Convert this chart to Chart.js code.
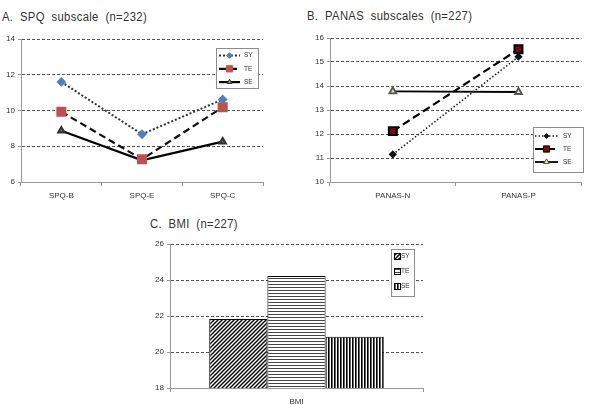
<!DOCTYPE html>
<html>
<head>
<meta charset="utf-8">
<script src="https://cdn.jsdelivr.net/npm/chart.js@4.4.1/dist/chart.umd.min.js"></script>
<style>
  body { margin: 0; background: #fff; width: 589px; height: 405px; position: relative; overflow: hidden; }
  canvas { position: absolute; }
  .title { position: absolute; font-family: "Liberation Sans", sans-serif; transform: scaleX(0.9); transform-origin: left center;
           font-size: 12.5px; line-height: 15px; color: #333; letter-spacing: 0.4px; word-spacing: 3.5px; white-space: nowrap; }
</style>
</head>
<body>
<div class="title" style="left:2px;top:10px">A. SPQ subscale (n=232)</div>
<div class="title" style="left:307px;top:9px">B. PANAS subscales (n=227)</div>
<div class="title" style="left:150px;top:217px">C. BMI (n=227)</div>
<canvas id="chartA" width="290" height="205" style="left:0;top:0"></canvas>
<canvas id="chartB" width="299" height="205" style="left:290px;top:0"></canvas>
<canvas id="chartC" width="300" height="205" style="left:130px;top:200px"></canvas>
<script>
// data
const seriesNames = ['SY', 'TE', 'SE'];

const spqLabels = ['SPQ-B', 'SPQ-E', 'SPQ-C'];
const spqSY = [11.6, 8.67, 10.62];
const spqTE = [9.93, 7.27, 10.18];
const spqSE = [8.87, 7.21, 8.26];

const panasLabels = ['PANAS-N', 'PANAS-P'];
const panasSY = [11.15, 15.22];
const panasTE = [12.12, 15.53];
const panasSE = [13.78, 13.75];

const bmiLabels = ['BMI'];
const bmiSY = [21.83];
const bmiTE = [24.22];
const bmiSE = [20.85];

const tickFont = { family: '"Liberation Sans", sans-serif', size: 8 };
const tickColor = '#333';

// marker drawing for the boxed legends
function drawMarker(ctx, style, r, x, y) {
    ctx.beginPath();
    if (style === 'rect') {
        const s = Math.SQRT1_2 * r;
        ctx.rect(x - s, y - s, 2 * s, 2 * s);
    } else if (style === 'rectRot') {
        ctx.moveTo(x, y - r); ctx.lineTo(x + r, y); ctx.lineTo(x, y + r); ctx.lineTo(x - r, y);
        ctx.closePath();
    } else if (style === 'triangle') {
        ctx.moveTo(x, y - r); ctx.lineTo(x + r * 0.866, y + r * 0.5); ctx.lineTo(x - r * 0.866, y + r * 0.5);
        ctx.closePath();
    }
    ctx.fill();
    ctx.stroke();
}

const boxLegend = {
    id: 'boxLegend',
    afterDraw(chart, args, opts) {
        if (!opts || !opts.w) return;
        const ctx = chart.ctx;
        const area = chart.chartArea;
        const x = Math.round(area.left + opts.x), y = Math.round(area.top + opts.y);
        ctx.save();
        ctx.fillStyle = '#fff';
        ctx.fillRect(x, y, opts.w, opts.h);
        ctx.strokeStyle = '#8c8c8c';
        ctx.lineWidth = 1;
        ctx.setLineDash([]);
        ctx.strokeRect(x + 0.5, y + 0.5, opts.w, opts.h);
        ctx.font = '6.5px "Liberation Sans", sans-serif';
        ctx.textBaseline = 'middle';
        chart.data.datasets.forEach((ds, i) => {
            const cy = y + opts.rowTop + i * opts.rowGap;
            if (opts.kind === 'line') {
                ctx.save();
                ctx.strokeStyle = ds.borderColor;
                ctx.lineWidth = ds.borderWidth;
                ctx.setLineDash(ds.borderDash || []);
                ctx.beginPath();
                ctx.moveTo(x + opts.lineX0, cy);
                ctx.lineTo(x + opts.lineX1, cy);
                ctx.stroke();
                ctx.setLineDash([]);
                ctx.fillStyle = ds.pointBackgroundColor;
                ctx.strokeStyle = ds.pointBorderColor;
                ctx.lineWidth = 1;
                drawMarker(ctx, ds.pointStyle, ds.pointRadius * 0.8, x + (opts.lineX0 + opts.lineX1) / 2, cy);
                ctx.restore();
            } else {
                ctx.fillStyle = ds.backgroundColor;
                ctx.fillRect(x + opts.lineX0, cy - 3, 6, 6);
                ctx.strokeStyle = '#000';
                ctx.strokeRect(x + opts.lineX0 + 0.5, cy - 2.5, 6, 6);
            }
            ctx.fillStyle = '#333';
            ctx.fillText(ds.label, x + opts.textX, cy);
        });
        ctx.restore();
    }
};

function yScale(min, max, step, width) {
    return {
        min: min, max: max,
        ticks: { stepSize: step, font: tickFont, color: tickColor, padding: 3 },
        grid: {
            color: c => (c.tick && c.tick.value === min) ? 'rgba(0,0,0,0)' : '#555',
            tickLength: 3,
            tickColor: '#999'
        },
        border: { dash: [3, 2], color: '#999' },
        afterFit(s) { s.width = width; }
    };
}

function xScale(height) {
    return {
        offset: true,
        ticks: { font: tickFont, color: tickColor, padding: 5 },
        grid: { offset: true, drawOnChartArea: false, tickLength: 4, tickColor: '#999' },
        border: { color: '#999' },
        afterFit(s) { s.height = height; }
    };
}

function baseOptions(layoutPad, yOpts, xOpts, legendOpts) {
    return {
        responsive: false,
        animation: false,
        layout: { padding: layoutPad },
        plugins: { legend: { display: false }, tooltip: { enabled: false }, boxLegend: legendOpts },
        scales: { x: xOpts, y: yOpts }
    };
}

// A. SPQ
new Chart(document.getElementById('chartA'), {
    type: 'line',
    data: {
        labels: spqLabels,
        datasets: [
            { label: seriesNames[0], data: spqSY, borderColor: '#333', borderWidth: 2, borderDash: [2, 2],
              pointStyle: 'rectRot', pointRadius: 3.5, pointBackgroundColor: '#4F81BD', pointBorderColor: '#4F81BD' },
            { label: seriesNames[1], data: spqTE, borderColor: '#111', borderWidth: 2.2, borderDash: [7, 4],
              pointStyle: 'rect', pointRadius: 5.5, pointBackgroundColor: '#C0504D', pointBorderColor: '#C0504D' },
            { label: seriesNames[2], data: spqSE, borderColor: '#000', borderWidth: 2.2,
              pointStyle: 'triangle', pointRadius: 3.5, pointBackgroundColor: '#8a9a50', pointBorderColor: '#333' }
        ]
    },
    options: baseOptions({ top: 39, right: 27, left: 0, bottom: 0 }, yScale(6, 14, 2, 21), xScale(23),
        { kind: 'line', x: 195, y: 9, w: 42, h: 40, rowTop: 7.5, rowGap: 13.3, lineX0: 3, lineX1: 24, textX: 28 }),
    plugins: [boxLegend]
});

// B. PANAS
new Chart(document.getElementById('chartB'), {
    type: 'line',
    data: {
        labels: panasLabels,
        datasets: [
            { label: seriesNames[0], data: panasSY, borderColor: '#222', borderWidth: 1.6, borderDash: [1.5, 2],
              pointStyle: 'rectRot', pointRadius: 3, pointBackgroundColor: '#111', pointBorderColor: '#111' },
            { label: seriesNames[1], data: panasTE, borderColor: '#000', borderWidth: 2.2, borderDash: [8, 4],
              pointStyle: 'rect', pointRadius: 5.5, pointBackgroundColor: '#7a0a0a', pointBorderColor: '#000' },
            { label: seriesNames[2], data: panasSE, borderColor: '#000', borderWidth: 1.8,
              pointStyle: 'triangle', pointRadius: 4, pointBackgroundColor: '#d7e4bd', pointBorderColor: '#555' }
        ]
    },
    options: baseOptions({ top: 38, right: 6, left: 0, bottom: 0 }, yScale(10, 16, 1, 40), xScale(23),
        { kind: 'line', x: 203, y: 89, w: 50, h: 45, rowTop: 9, rowGap: 13, lineX0: 2, lineX1: 25, textX: 30 }),
    plugins: [boxLegend]
});

// C. BMI with hatch patterns
function pattern(kind) {
    const c = document.createElement('canvas');
    const s = kind === 'diag' ? 4 : 3;
    c.width = s; c.height = s;
    const g = c.getContext('2d');
    g.fillStyle = '#fff';
    g.fillRect(0, 0, s, s);
    g.strokeStyle = '#000';
    if (kind === 'diag') {
        g.lineWidth = 1.4;
        g.beginPath();
        g.moveTo(-1, s + 1); g.lineTo(s + 1, -1);
        g.moveTo(-1, 1); g.lineTo(1, -1);
        g.moveTo(s - 1, s + 1); g.lineTo(s + 1, s - 1);
        g.stroke();
    } else if (kind === 'horiz') {
        g.fillStyle = '#444';
        g.fillRect(0, 0, s, 1);
    } else {
        g.fillStyle = '#000';
        g.fillRect(0, 0, 1.6, s);
    }
    return g.createPattern(c, 'repeat');
}
const ctxC = document.getElementById('chartC').getContext('2d');
const barStyle = { borderColor: '#000', borderWidth: 1, categoryPercentage: 0.69, barPercentage: 1 };

new Chart(ctxC, {
    type: 'bar',
    data: {
        labels: bmiLabels,
        datasets: [
            Object.assign({ label: seriesNames[0], data: bmiSY, backgroundColor: pattern('diag') }, barStyle),
            Object.assign({ label: seriesNames[1], data: bmiTE, backgroundColor: pattern('horiz') }, barStyle),
            Object.assign({ label: seriesNames[2], data: bmiSE, backgroundColor: pattern('vert') }, barStyle)
        ]
    },
    options: baseOptions({ top: 44, right: 7, left: 0, bottom: 0 }, yScale(18, 26, 2, 40), xScale(17),
        { kind: 'bar', x: 221, y: 5, w: 23, h: 47, rowTop: 7, rowGap: 15, lineX0: 3, lineX1: 9, textX: 10 }),
    plugins: [boxLegend]
});
</script>
</body>
</html>
